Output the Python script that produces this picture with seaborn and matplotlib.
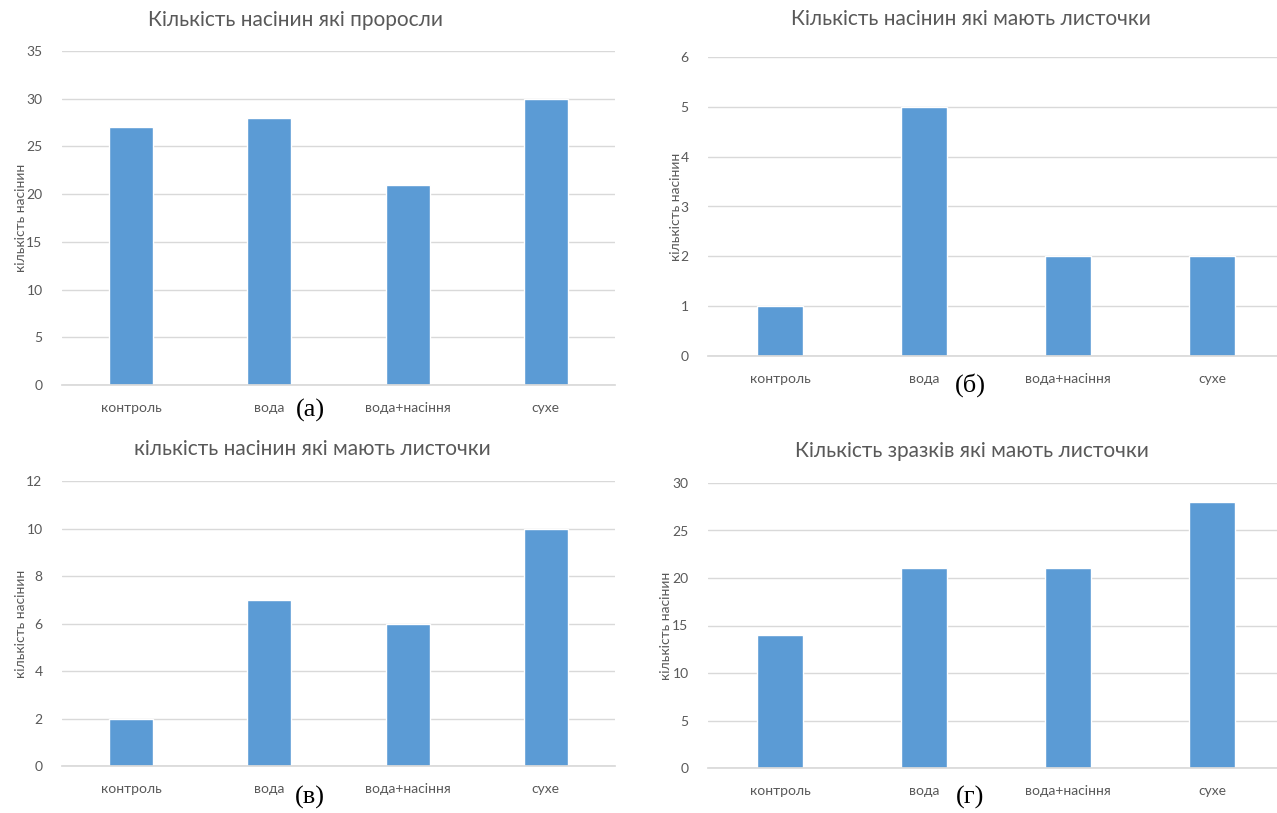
import pandas as pd
import matplotlib.pyplot as plt
import seaborn as sns

categories = ['контроль', 'вода', 'вода+насіння', 'сухе']
sprouted = [27, 28, 21, 30]
leaves_b = [1, 5, 2, 2]
leaves_v = [2, 7, 6, 10]
samples_g = [14, 21, 21, 28]

titles = ['Кількість насінин які проросли',
          'Кількість насінин які мають листочки',
          'кількість насінин які мають листочки',
          'Кількість зразків які мають листочки']
panel_tags = ['(а)', '(б)', '(в)', '(г)']
ylabel = 'кількість насінин'

sns.set_theme(style='white')
plt.rcParams['font.family'] = ['Lato', 'DejaVu Sans']

W, H = 1277, 813
fig = plt.figure(figsize=(W / 100, H / 100), dpi=100)

bar_color = '#5B9BD5'
text_color = '#595959'
grid_color = '#D9D9D9'

# pixel boxes: left, top, right, bottom of plot area
panels = [
    dict(vals=sprouted, box=(62, 51, 615, 385), ymax=35, step=5,
         title_xy=(295, 20), tag_xy=(310, 410), ylab_x=27),
    dict(vals=leaves_b, box=(708, 57, 1284, 356), ymax=6, step=1,
         title_xy=(971, 19), tag_xy=(970, 385), ylab_x=682),
    dict(vals=leaves_v, box=(62, 481, 615, 766), ymax=12, step=2,
         title_xy=(312, 449), tag_xy=(310, 797), ylab_x=27),
    dict(vals=samples_g, box=(708, 483, 1284, 768), ymax=30, step=5,
         title_xy=(972, 451), tag_xy=(970, 797), ylab_x=672),
]

for p, title, tag in zip(panels, titles, panel_tags):
    l, t, r, b = p['box']
    ax = fig.add_axes([l / W, 1 - b / H, (r - l) / W, (b - t) / H])
    df = pd.DataFrame({'cat': categories, 'val': p['vals']})
    sns.barplot(data=df, x='cat', y='val', color=bar_color, width=0.32,
                saturation=1, ax=ax)
    ax.set_xlim(-0.5, 3.5)
    ax.set_ylim(0, p['ymax'])
    ax.set_yticks(range(0, p['ymax'] + 1, p['step']))
    ax.grid(axis='y', color=grid_color, linewidth=1)
    ax.set_axisbelow(True)
    for s in ['top', 'right', 'left']:
        ax.spines[s].set_visible(False)
    ax.spines['bottom'].set_color(grid_color)
    ax.tick_params(axis='both', length=0, labelsize=10, labelcolor=text_color)
    ax.tick_params(axis='x', pad=12)
    ax.tick_params(axis='y', pad=14)
    ax.set_xlabel('')
    ax.set_ylabel(ylabel, fontsize=10, color=text_color)
    ax.yaxis.set_label_coords((p['ylab_x'] - l) / (r - l), 0.5)

    tx, ty = p['title_xy']
    fig.text(tx / W, 1 - ty / H, title, ha='center', va='center',
             fontsize=15, color=text_color)
    gx, gy = p['tag_xy']
    fig.text(gx / W, 1 - gy / H, tag, ha='center', va='center',
             fontsize=19, color='black', family=['Liberation Serif', 'DejaVu Serif'])

plt.savefig('out.png', dpi=100, facecolor='white')
